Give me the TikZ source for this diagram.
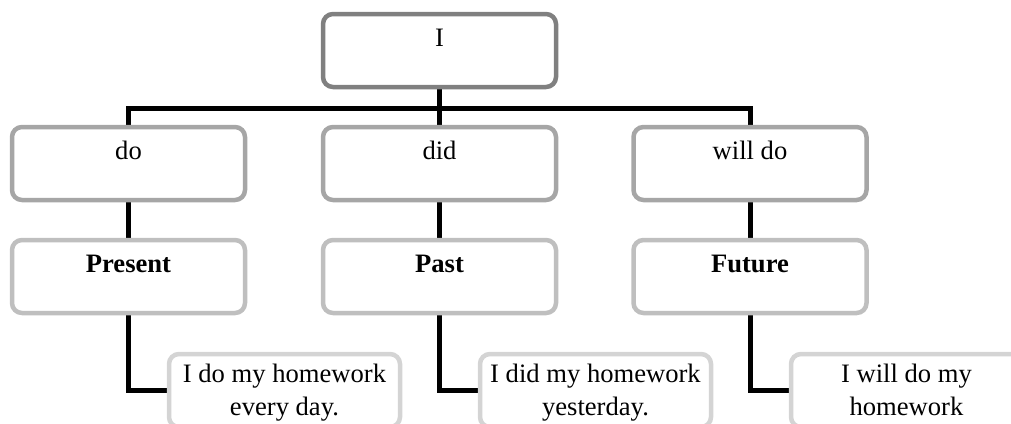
\documentclass[tikz,border=0pt]{standalone}
\usepackage{fontspec}
\setmainfont{Liberation Serif}
\usetikzlibrary{backgrounds}
\begin{document}
\begin{tikzpicture}[x=1pt,y=-1pt,
  every node/.style={font=\fontsize{26.6}{33}\selectfont, inner sep=0pt},
  tbox/.style={draw, line width=4.5pt, rounded corners=10pt, fill=white,
    minimum width=#1, text height=32pt, text depth=41pt, anchor=base},
  lvlone/.style={tbox=233pt, draw=black!50},
  lvltwo/.style={tbox=233pt, draw=black!35},
  lvlthree/.style={tbox=233pt, draw=black!25},
  lvlfour/.style={tbox=231pt, draw=black!17, text height=28pt, text depth=45pt},
  conn/.style={line width=5pt, draw=black}]
\useasboundingbox (0,0) rectangle (1011,423);
\clip (0,0) rectangle (1011,423);

% bus line joining the subject to the three verb forms
\coordinate (bus) at (439.5,108);

% boxes
\node[lvlone] (subj) at (439.5,46) {I};
\node[lvltwo] (do) at (128.5,159) {do};
\node[lvltwo] (did) at (439.5,159) {did};
\node[lvltwo] (willdo) at (750,159) {will do};
\node[lvlthree] (present) at (128.5,272) {\textbf{Present}};
\node[lvlthree] (past) at (439.5,272) {\textbf{Past}};
\node[lvlthree] (future) at (750,272) {\textbf{Future}};
\node[lvlfour] (ex1) at (284.5,382) {\begin{tabular}[t]{@{}c@{}}I do my homework\\every day.\end{tabular}};
\node[lvlfour] (ex2) at (595.5,382) {\begin{tabular}[t]{@{}c@{}}I did my homework\\yesterday.\end{tabular}};
\node[lvlfour] (ex3) at (906.5,382) {\begin{tabular}[t]{@{}c@{}}I will do my\\homework\end{tabular}};

% connectors, kept behind the boxes
\begin{scope}[on background layer]
\clip (0,0) rectangle (1011,423);
\draw[conn] (subj.south) -- (did.north);
\draw[conn] (do.north) -- (do.north |- bus) -- (willdo.north |- bus) -- (willdo.north);
\draw[conn] (do.south) -- (present.north);
\draw[conn] (did.south) -- (past.north);
\draw[conn] (willdo.south) -- (future.north);
\draw[conn] (present.south) |- (ex1.west);
\draw[conn] (past.south) |- (ex2.west);
\draw[conn] (future.south) |- (ex3.west);
\end{scope}
\end{tikzpicture}
\end{document}
